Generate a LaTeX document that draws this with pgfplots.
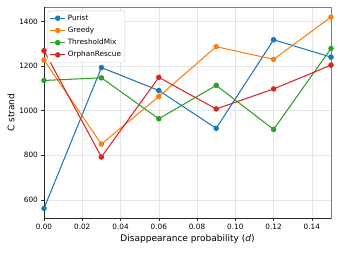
\documentclass[border=0pt]{standalone}
\usepackage{fontspec}
\setmainfont{DejaVu Sans}
\usepackage{pgfplots}
\pgfplotsset{compat=1.18}
\definecolor{tabblue}{HTML}{1F77B4}
\definecolor{taborange}{HTML}{FF7F0E}
\definecolor{tabgreen}{HTML}{2CA02C}
\definecolor{tabred}{HTML}{D62728}
\begin{document}
\begin{tikzpicture}
\useasboundingbox (0,0) rectangle (339pt,254pt);
\begin{axis}[
  at={(44pt,36pt)}, anchor=south west,
  scale only axis, width=287pt, height=210.5pt,
  xmin=0, xmax=0.15, ymin=518, ymax=1464,
  xtick={0,0.02,0.04,0.06,0.08,0.10,0.12,0.14},
  ytick={600,800,1000,1200,1400},
  /pgf/number format/assume math mode=true,
  xticklabel style={/pgf/number format/fixed,/pgf/number format/fixed zerofill,/pgf/number format/precision=2},
  yticklabel style={/pgf/number format/set thousands separator={}},
  ticklabel style={font=\fontsize{7.3}{8.5}\selectfont},
  tick align=outside, tick pos=left,
  major tick length=2.6pt,
  tick style={black!80, line width=0.5pt},
  axis line style={black!50, line width=0.7pt},
  grid=major, major grid style={black!10, line width=0.5pt},
  xlabel={Disappearance probability (\textit{d})},
  ylabel={C strand},
  label style={font=\fontsize{9}{10.5}\selectfont},
  xlabel style={yshift=2pt},
  ylabel style={yshift=-2pt},
  every axis plot/.append style={line width=1.05pt, mark=*, mark size=2.2pt},
  legend cell align=left,
  legend style={at={(rel axis cs:0.013,0.985)}, anchor=north west,
    draw=black!20, rounded corners=2pt, font=\fontsize{7.3}{8.5}\selectfont,
    row sep=1.2pt, inner sep=1.8pt},
  legend image code/.code={\draw[mark repeat=2,mark phase=2] plot coordinates {(0pt,0pt)(7.5pt,0pt)(15pt,0pt)};},
]
\addplot[color=tabblue] coordinates {(0,561)(0.03,1194)(0.06,1091)(0.09,921)(0.12,1319)(0.15,1241)};
\addlegendentry{Purist}
\addplot[color=taborange] coordinates {(0,1228)(0.03,850)(0.06,1064)(0.09,1288)(0.12,1231)(0.15,1421)};
\addlegendentry{Greedy}
\addplot[color=tabgreen] coordinates {(0,1136)(0.03,1148)(0.06,964)(0.09,1114)(0.12,916)(0.15,1280)};
\addlegendentry{ThresholdMix}
\addplot[color=tabred] coordinates {(0,1270)(0.03,792)(0.06,1150)(0.09,1008)(0.12,1098)(0.15,1205)};
\addlegendentry{OrphanRescue}
\draw[black!85, line width=0.7pt] (rel axis cs:0,1) -- (rel axis cs:0,0) -- (rel axis cs:1,0);
\end{axis}
\end{tikzpicture}
\end{document}
